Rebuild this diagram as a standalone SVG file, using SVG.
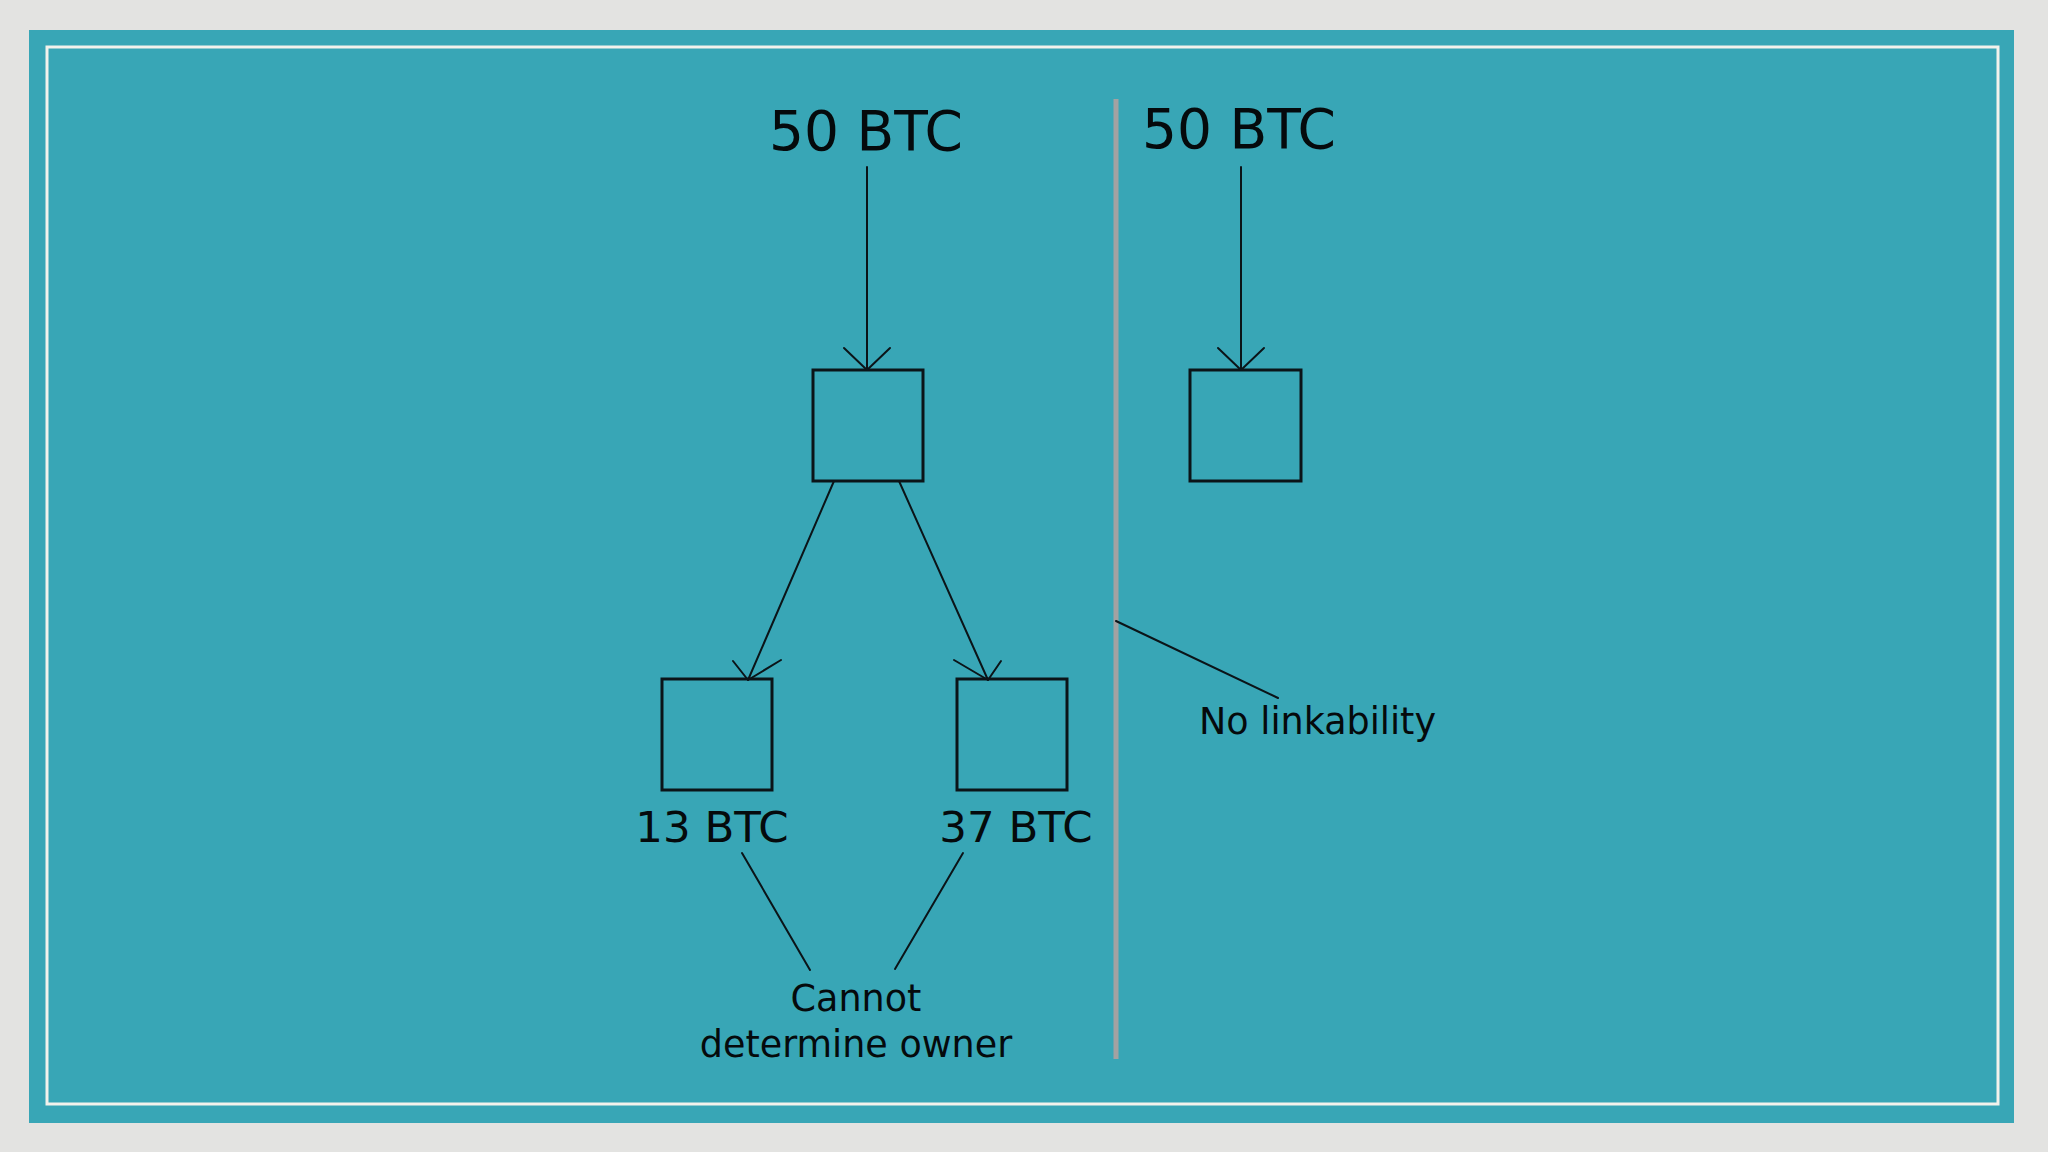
<svg xmlns="http://www.w3.org/2000/svg" width="2048" height="1152" viewBox="0 0 2048 1152">
  <style>
    .lbl { font-family: "DejaVu Sans", "Liberation Sans", sans-serif; fill: #050a0c; }
    .box { fill: none; stroke: #0b1418; stroke-width: 3; }
    .ln { fill: none; stroke: #0b1418; stroke-width: 2; stroke-linecap: round; stroke-linejoin: round; }
  </style>
  <rect x="0" y="0" width="2048" height="1152" fill="#e3e3e1"/>
  <rect x="29" y="30" width="1985" height="1093" fill="#38a6b6"/>
  <rect x="47" y="47" width="1951" height="1057" fill="none" stroke="#f2f2ec" stroke-width="3"/>
  <line x1="1116" y1="99" x2="1116" y2="1059" stroke="#a2a2a2" stroke-width="5"/>

  <g id="connectors">
    <line class="ln" x1="867" y1="167" x2="867" y2="370"/>
    <polyline class="ln" points="844,348 867,370 890,348"/>
    <line class="ln" x1="1241" y1="167" x2="1241" y2="370"/>
    <polyline class="ln" points="1218,348 1241,370 1264,348"/>
    <line class="ln" x1="834" y1="481" x2="748" y2="680"/>
    <polyline class="ln" points="733,661 748,680 781,660"/>
    <line class="ln" x1="899" y1="481" x2="988" y2="680"/>
    <polyline class="ln" points="954,660 988,680 1001,661"/>
    <line class="ln" x1="742" y1="853" x2="810" y2="970"/>
    <line class="ln" x1="963" y1="853" x2="895" y2="969"/>
    <line class="ln" x1="1116" y1="621" x2="1278" y2="698"/>
  </g>

  <g id="label-50-left"><text class="lbl" x="866" y="150" font-size="55" text-anchor="middle">50 BTC</text></g>
  <g id="label-50-right"><text class="lbl" x="1239" y="148" font-size="55" text-anchor="middle">50 BTC</text></g>
  <g id="node-tx-left"><rect class="box" x="813" y="370" width="110" height="111"/></g>
  <g id="node-tx-right"><rect class="box" x="1190" y="370" width="111" height="111"/></g>
  <g id="node-13"><rect class="box" x="662" y="679" width="110" height="111"/>
    <text class="lbl" x="712" y="842" font-size="43.5" text-anchor="middle">13 BTC</text></g>
  <g id="node-37"><rect class="box" x="957" y="679" width="110" height="111"/>
    <text class="lbl" x="1016" y="842" font-size="43.5" text-anchor="middle">37 BTC</text></g>
  <g id="label-cannot">
    <text class="lbl" x="856" y="1011" font-size="36.5" text-anchor="middle">Cannot</text>
    <text class="lbl" x="856" y="1057" font-size="36.5" text-anchor="middle">determine owner</text>
  </g>
  <g id="label-nolink"><text class="lbl" x="1199" y="734" font-size="36.5">No linkability</text></g>
</svg>
